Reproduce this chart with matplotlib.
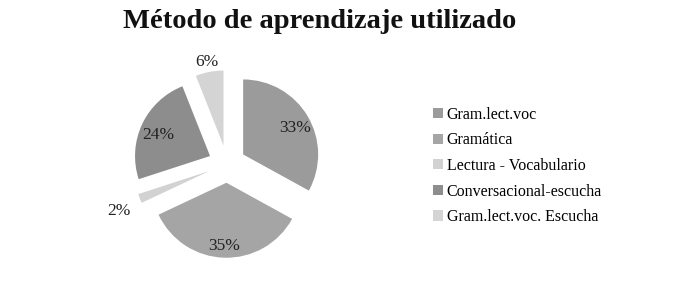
import matplotlib
matplotlib.use("Agg")
import matplotlib.pyplot as plt
from matplotlib.patches import Patch
import numpy as np

categories = ["Gram.lect.voc", "Gramática", "Lectura - Vocabulario",
              "Conversacional-escucha", "Gram.lect.voc. Escucha"]
values = [33, 35, 2, 24, 6]
colors = ["#9b9b9b", "#a5a5a5", "#d2d2d2", "#8d8d8d", "#d4d4d4"]
label_dist = [0.8, 0.8, 1.3, 0.76, 1.18]

W, H = 691, 288
fig = plt.figure(figsize=(W / 100, H / 100), dpi=100)
R = 75.0
cx, cy = 227.0, 164.0
ax = fig.add_axes([0, 0, 1, 1])

wedges, texts = ax.pie(values, colors=colors, startangle=90, counterclock=False,
                       explode=[0.25] * len(values), radius=1,
                       wedgeprops=dict(linewidth=0))
ax.set_xlim(-cx / R, (W - cx) / R)
ax.set_ylim(-(H - cy) / R, cy / R)
ax.set_aspect("equal")
ax.axis("off")

serif = ["Liberation Serif", "DejaVu Serif"]
for w, v, d in zip(wedges, values, label_dist):
    th = np.deg2rad(0.5 * (w.theta1 + w.theta2))
    x0, y0 = w.center
    ax.text(x0 + d * np.cos(th), y0 + d * np.sin(th) - 0.05, f"{v}%",
            ha="center", va="center", fontsize=12.5, family=serif, color="#222222")

handles = [Patch(facecolor=c, edgecolor="none") for c in colors]
fig.legend(handles, categories, loc="center left", bbox_to_anchor=(433 / W, 1 - 166 / H),
           frameon=False, prop=dict(family=serif, size=11.5),
           handlelength=0.6, handleheight=0.6, handletextpad=0.25,
           labelspacing=0.6, borderaxespad=0, borderpad=0)

fig.text(320 / W, 1 - 22 / H, "Método de aprendizaje utilizado", ha="center", va="center",
         fontsize=20.5, fontweight="bold", family=serif, color="#111111")

fig.savefig("out.png", dpi=100)
